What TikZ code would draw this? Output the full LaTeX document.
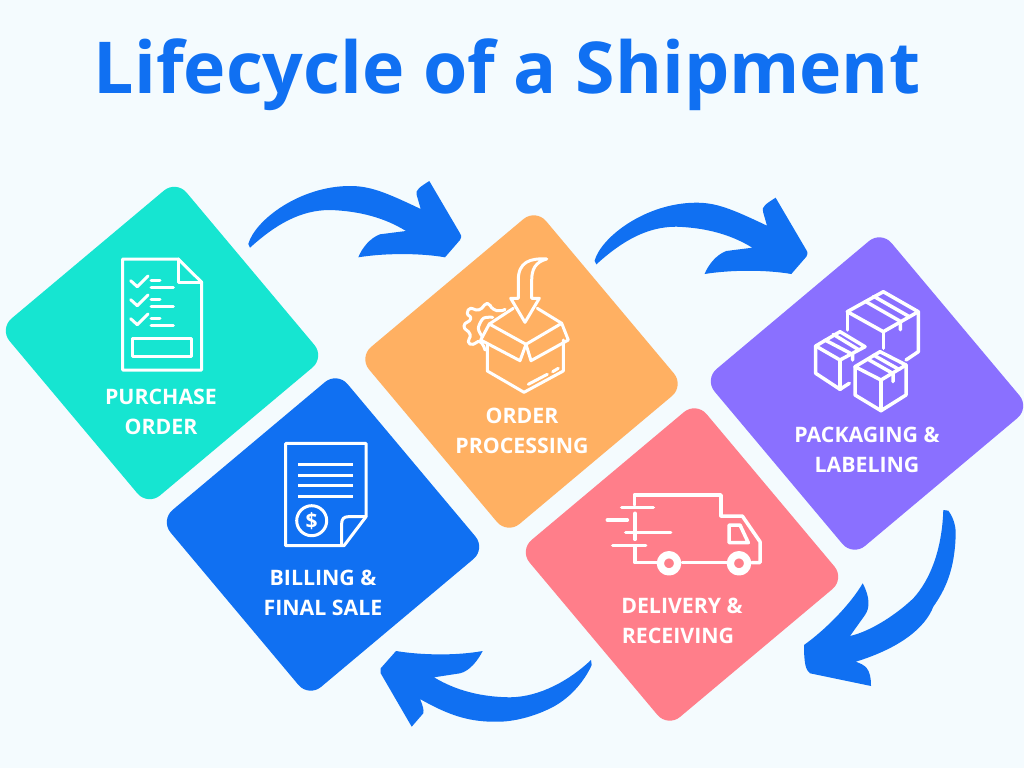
\documentclass[tikz,border=0pt]{standalone}
\usepackage{fontspec}
\setmainfont{Open Sans}
\definecolor{bgc}{HTML}{F4FBFE}
\definecolor{bluec}{HTML}{1070F2}
\definecolor{tealc}{HTML}{16E5D1}
\definecolor{orangec}{HTML}{FFB062}
\definecolor{purplec}{HTML}{8A70FF}
\definecolor{pinkc}{HTML}{FF7E8A}
\tikzset{
  tile/.style={rectangle,rounded corners=16pt,rotate=40,minimum width=231pt,minimum height=231pt,inner sep=0pt},
  lab/.style={text=white,font=\fontsize{21.3}{30}\selectfont\bfseries,inner sep=0pt,anchor=center},
  icon/.style={draw=white,line width=3pt,line join=round,line cap=round},
  thick icon/.style={icon,line width=3.5pt},
  arr/.style={fill=bluec,draw=none}
}
\newcommand{\toparrow}{%
\fill[arr] (250,247.7) -- (248.3,244) .. controls (255,220) and (300,186) .. (350,186) .. controls (370,186) and (385,192) .. (420.7,209)
  -- (416.7,195) .. controls (415,190) and (420,187) .. (429.3,181) -- (460,233.3) .. controls (462,236) and (461,239) .. (460,240) -- (445,257.3)
  .. controls (420,253) and (385,253) .. (358.3,257.3) .. controls (362,248) and (370,238) .. (380,234.3) -- (406,231)
  .. controls (385,218) and (360,211) .. (330,210) .. controls (300,210) and (275,225) .. cycle;}
\begin{document}
\begin{tikzpicture}[x=1pt,y=-1pt]
\useasboundingbox (0,0) rectangle (1024,768);
\fill[bgc] (0,0) rectangle (1024,768);
\node[text=bluec,font=\fontsize{71.6}{80}\selectfont\bfseries,inner sep=0pt] (title) at (507,75) {Lifecycle of a Shipment};
\node[tile,fill=tealc] (po) at (162,343) {};
\node[tile,fill=bluec] (bf) at (323,534.5) {};
\node[tile,fill=orangec] (op) at (521.5,371.5) {};
\node[tile,fill=pinkc] (dr) at (682,564.5) {};
\node[tile,fill=purplec] (pl) at (867,393.5) {};
\node[lab] (l1a) at (161,397) {PURCHASE};
\node[lab] (l1b) at (161,427) {ORDER};
\node[lab] (l2a) at (522,416) {ORDER};
\node[lab] (l2b) at (522,446) {PROCESSING};
\node[lab] (l3a) at (867,435) {PACKAGING \&};
\node[lab] (l3b) at (867,465) {LABELING};
\node[lab] (l4a) at (682,606) {DELIVERY \&};
\node[lab] (l4b) at (678,636) {RECEIVING};
\node[lab] (l5a) at (323,578) {BILLING \&};
\node[lab] (l5b) at (323,608) {FINAL SALE};
% arrows
\toparrow
\begin{scope}[shift={(346.3,16.7)}]\toparrow\end{scope}
\fill[arr] (943.3,510) -- (948.3,510.7) .. controls (953,517) and (955.7,525) .. (955.7,533.3) .. controls (955,570) and (945,590) .. (933.3,606.7) .. controls (925,628) and (900,648) .. (855.7,661.7)
  .. controls (865,665) and (871,668) .. (871,686) -- (810,673.3) .. controls (806,670) and (804,665) .. (804,645) .. controls (825,630) and (850,605) .. (862.7,583.3)
  .. controls (870,597) and (870,608) .. (865,615) -- (850,636) .. controls (872,631) and (898,613) .. (913.3,598.3) .. controls (930,580) and (942,550) .. cycle;
\fill[arr] (591,660) -- (591.7,665) .. controls (585,680) and (570,700) .. (546.7,710) .. controls (525,720) and (505,722) .. (496.7,721.7) .. controls (470,722) and (450,716) .. (420,699)
  .. controls (423,706) and (424,710) .. (423.3,713.3) -- (411.7,726.7) -- (380.7,673.3) -- (380.7,668.3) -- (396,651) .. controls (420,655) and (455,656) .. (482.7,651)
  .. controls (478,660) and (470,671) .. (460,673.3) -- (434,677.3) .. controls (455,690) and (480,697) .. (510,697.3) .. controls (540,697) and (570,680) .. cycle;
% doc icon
\draw[icon] (122.7,259) -- (178.3,259) -- (201.7,282.3) -- (201.7,370) -- (122.7,370) -- cycle;
\draw[icon] (178.3,259) -- (178.3,282.3) -- (201.7,282.3);
\foreach \d in {0,19,38} {
  \draw[icon] (130.7,280.7+\d) -- (137.3,286.7+\d) -- (148,276+\d);
  \draw[icon] (151,280.7+\d) -- (160,280.7+\d);
  \draw[icon] (151,287.7+\d) -- (173.3,287.7+\d);
}
\draw[icon] (132.7,338.3) rectangle (191.7,356.7);
% box icon
\draw[icon] (546.7,259) .. controls (530,258) and (518.3,262) .. (518.3,280) -- (518.3,298.3) -- (510.7,298.3) -- (525,322.3) -- (539.3,298.3) -- (531.7,298.3) -- (531.7,280) .. controls (531.7,270) and (535,262) .. (546.7,259);
\draw[icon] (487.3,343.3) -- (487.3,371) -- (524,392.3) -- (563.3,371) -- (563.3,340);
\draw[icon] (489.3,324) -- (526,344.3) -- (520,360.7) -- (480.7,340) -- cycle;
\draw[icon] (526,344.3) -- (561.7,323.3) -- (568.3,340) -- (531,360.7) -- cycle;
\draw[icon] (489.3,324) -- (513.3,308.3);
\draw[icon] (537.3,308.3) -- (561.7,323.3);
\draw[icon] (528.3,384.3) -- (547.3,374.3);
\draw[icon] (552.7,371.7) -- (558.3,368.3);
\draw[icon] plot[smooth,tension=1] coordinates {(505,309.3) (500,310.7) (493.3,309) (487.3,303.3) (481.7,308.3) (476,310) (470.7,308.3) (467.3,313.3) (470.7,319) (464,326) (470,334.3) (468.3,341.7) (473.3,344.3) (480,341.7) (485,350)};
\draw[icon] plot[smooth] coordinates {(482.3,336.7) (478.3,328.3) (483.3,318.3) (492.7,317.3)};
% boxes icon
\draw[thick icon] (883.3,291.7) -- (918.3,311.7) -- (883.3,331.7) -- (847.3,311.7) -- cycle;
\draw[thick icon] (847.3,311.7) -- (847.3,330);
\draw[thick icon] (883.3,331.7) -- (883.3,348.3);
\draw[thick icon] (918.3,311.7) -- (918.3,351.7) -- (906,360);
\draw[thick icon] (865.3,301.3) -- (900.3,321.3) -- (900.3,329.7);
\draw[thick icon] (873.7,296.3) -- (908.7,316.3);
\draw[thick icon] (840,331.7) -- (865,346.7) -- (840,360) -- (815.7,346) -- cycle;
\draw[thick icon] (815.7,346) -- (815.7,373.3) -- (840,389.3) -- (849.3,383.3);
\draw[thick icon] (840,360) -- (840,389.3);
\draw[thick icon] (825,340) -- (852.7,354.5) -- (852.7,360);
\draw[thick icon] (833.3,334.3) -- (858.3,349.5);
\draw[thick icon] (880,351.7) -- (906,365) -- (881,380) -- (855,366.7) -- cycle;
\draw[thick icon] (855,366.7) -- (855,395) -- (881,410.7) -- (906,395) -- (906,365);
\draw[thick icon] (881,380) -- (881,410.7);
\draw[thick icon] (868.7,359.7) -- (893,373.5) -- (893,381.7);
\draw[thick icon] (873.5,355) -- (899,369.5);
% truck icon
\draw[thick icon] (634.3,505) -- (634.3,495) -- (721,495) -- (721,516);
\draw[thick icon] (635,513.3) -- (635,539.3);
\draw[thick icon] (635,546) -- (635,562.7) -- (656.7,562.7);
\draw[thick icon] (682.3,562.7) -- (726.7,562.7);
\draw[thick icon] (721,516) -- (742.3,516) -- (760,541.7) -- (760,562.7) -- (751.7,562.7);
\draw[thick icon] (729,525) -- (740,525) -- (748.3,542.7) -- (729,542.7) -- cycle;
\draw[icon,line width=7.3pt] (669,563.3) circle (8.6);
\draw[icon,line width=7.3pt] (739,563.3) circle (8.6);
\draw[thick icon] (621.7,507.7) -- (653.3,507.7);
\draw[thick icon] (607.3,520) -- (627.3,520);
\draw[thick icon] (625.7,532.7) -- (670.7,532.7);
\draw[thick icon] (612.7,545.7) -- (645.7,545.7);
% bill icon
\draw[icon] (285.7,443.3) -- (366,443.3) -- (366,516.7) -- (344,545.7) -- (285.7,545.7) -- cycle;
\draw[icon] (366,516.7) -- (348.3,516.7) .. controls (344,516.7) and (341.7,519) .. (341.7,523.3) -- (341.7,545);
\foreach \yy in {464.7,475.3,485.7,496} { \draw[icon,line cap=butt] (298.3,\yy) -- (353.3,\yy); }
\draw[icon] (311.7,520.7) circle (15);
\node[text=white,font=\fontsize{21}{21}\selectfont\bfseries,inner sep=0pt] (dollar) at (311.7,520.7) {\$};
\end{tikzpicture}
\end{document}
